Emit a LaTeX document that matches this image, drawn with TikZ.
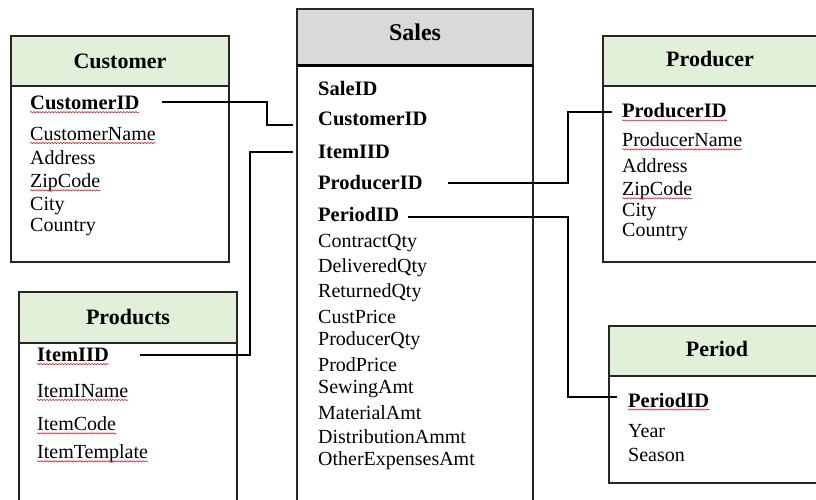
\documentclass[tikz,border=0pt]{standalone}
\usepackage{fontspec}
\setmainfont{Liberation Serif}
\usetikzlibrary{decorations.pathmorphing}
\definecolor{hdrgreen}{HTML}{E2EFD9}
\definecolor{hdrgray}{HTML}{D9D9D9}
\definecolor{boxline}{HTML}{262626}
\definecolor{typored}{HTML}{D0202A}

\begin{document}
\begin{tikzpicture}[x=1pt,y=-1pt,
  field/.style={anchor=west, inner sep=0pt, font=\fontsize{20}{20}\selectfont},
  key/.style={anchor=west, inner sep=0pt, font=\fontsize{20.5}{20.5}\selectfont\bfseries},
  title/.style={inner sep=0pt, font=\fontsize{22}{22}\selectfont\bfseries},
  frame/.style={draw=boxline, line width=1.3pt},
  link/.style={draw=black, line width=1.2pt},
  typo/.style={draw=typored, line width=0.6pt, decorate,
    decoration={snake, amplitude=0.6pt, segment length=3pt}}
]
\useasboundingbox (0,0) rectangle (816,499);
\fill[white] (0,0) rectangle (816,499);

\begin{scope}
\clip (0,0) rectangle (816,499);

% ---------- table frames ----------
% Customer
\fill[hdrgreen] (11,36) rectangle (229,86);
\draw[frame] (11,36) rectangle (229,262);
\draw[frame] (11,86) -- (229,86);
% Products
\fill[hdrgreen] (19,292) rectangle (237,343);
\draw[frame] (19,520) -- (19,292) -- (237,292) -- (237,520);
\draw[frame] (19,343) -- (237,343);
% Sales
\fill[hdrgray] (297,9) rectangle (533,65);
\draw[frame] (297,520) -- (297,9) -- (533,9) -- (533,520);
\draw[draw=black, line width=3pt] (297,65) -- (533,65);
% Producer
\fill[hdrgreen] (603,36) rectangle (830,86);
\draw[frame] (830,36) -- (603,36) -- (603,262) -- (830,262);
\draw[frame] (603,86) -- (830,86);
% Period
\fill[hdrgreen] (609,326) rectangle (830,376);
\draw[frame] (830,326) -- (609,326) -- (609,483) -- (830,483);
\draw[frame] (609,376) -- (830,376);
\end{scope}

% ---------- titles ----------
\node[title] (tcust) at (120,61) {Customer};
\node[title] (tprod) at (128,317) {Products};
\node[title, font=\fontsize{24}{24}\selectfont\bfseries] (tsale) at (415,32) {Sales};
\node[title] (tprdr) at (710,59) {Producer};
\node[title] (tper)  at (717,349) {Period};

% ---------- Customer fields ----------
\node[key]   (ccid)  at (30,103) {CustomerID};
\node[field] (cname) at (30,134) {CustomerName};
\node[field] (caddr) at (30,158) {Address};
\node[field] (czip)  at (30,183) {ZipCode};
\node[field] (ccity) at (30,206) {City};
\node[field] (cctry) at (30,227) {Country};

% ---------- Products fields ----------
\node[key]   (pid)   at (37,355) {ItemIID};
\node[field] (pname) at (37,391) {ItemIName};
\node[field] (pcode) at (37,424) {ItemCode};
\node[field] (ptmpl) at (37,454) {ItemTemplate};

% ---------- Sales fields ----------
\node[key]   (ssale) at (318,88)  {SaleID};
\node[key]   (scust) at (318,119) {CustomerID};
\node[key]   (sitem) at (318,152) {ItemIID};
\node[key]   (sprod) at (318,183) {ProducerID};
\node[key]   (sper)  at (318,214) {PeriodID};
\node[field] (s6)  at (318,243) {ContractQty};
\node[field] (s7)  at (318,268) {DeliveredQty};
\node[field] (s8)  at (318,293) {ReturnedQty};
\node[field] (s9)  at (318,317) {CustPrice};
\node[field] (s10) at (318,341) {ProducerQty};
\node[field] (s11) at (318,365) {ProdPrice};
\node[field] (s12) at (318,389) {SewingAmt};
\node[field] (s13) at (318,413) {MaterialAmt};
\node[field] (s14) at (318,437) {DistributionAmmt};
\node[field] (s15) at (318,461) {OtherExpensesAmt};

% ---------- Producer fields ----------
\node[key]   (rid)   at (622,111) {ProducerID};
\node[field] (rname) at (622,140) {ProducerName};
\node[field] (raddr) at (622,166) {Address};
\node[field] (rzip)  at (622,191) {ZipCode};
\node[field] (rcity) at (622,212) {City};
\node[field] (rctry) at (622,232) {Country};

% ---------- Period fields ----------
\node[key]   (eid)   at (628,400) {PeriodID};
\node[field] (eyear) at (628,431) {Year};
\node[field] (eseas) at (628,455) {Season};

% ---------- spelling marks ----------
\foreach \n in {ccid,cname,czip,pid,pname,pcode,ptmpl,rid,rname,rzip,eid}
  \draw[typo] ([yshift=-2.5pt]\n.base west) -- ([yshift=-2.5pt]\n.base east);

% ---------- relationship lines ----------
\coordinate (c1a) at (162,102);
\coordinate (c1b) at (293,125);
\coordinate (c2a) at (140,355);
\coordinate (c2b) at (293,152);
\coordinate (c3a) at (448,183);
\coordinate (c3b) at (612,112);
\coordinate (c4a) at (408,217);
\coordinate (c4b) at (617,397);

\draw[link] (c1a) -- (267,102) -- (267,125) -- (c1b);
\draw[link] (c2a) -- (250,355) -- (250,152) -- (c2b);
\draw[link] (c3a) -- (568,183) -- (568,112) -- (c3b);
\draw[link] (c4a) -- (568,217) -- (568,397) -- (c4b);
\end{tikzpicture}
\end{document}
